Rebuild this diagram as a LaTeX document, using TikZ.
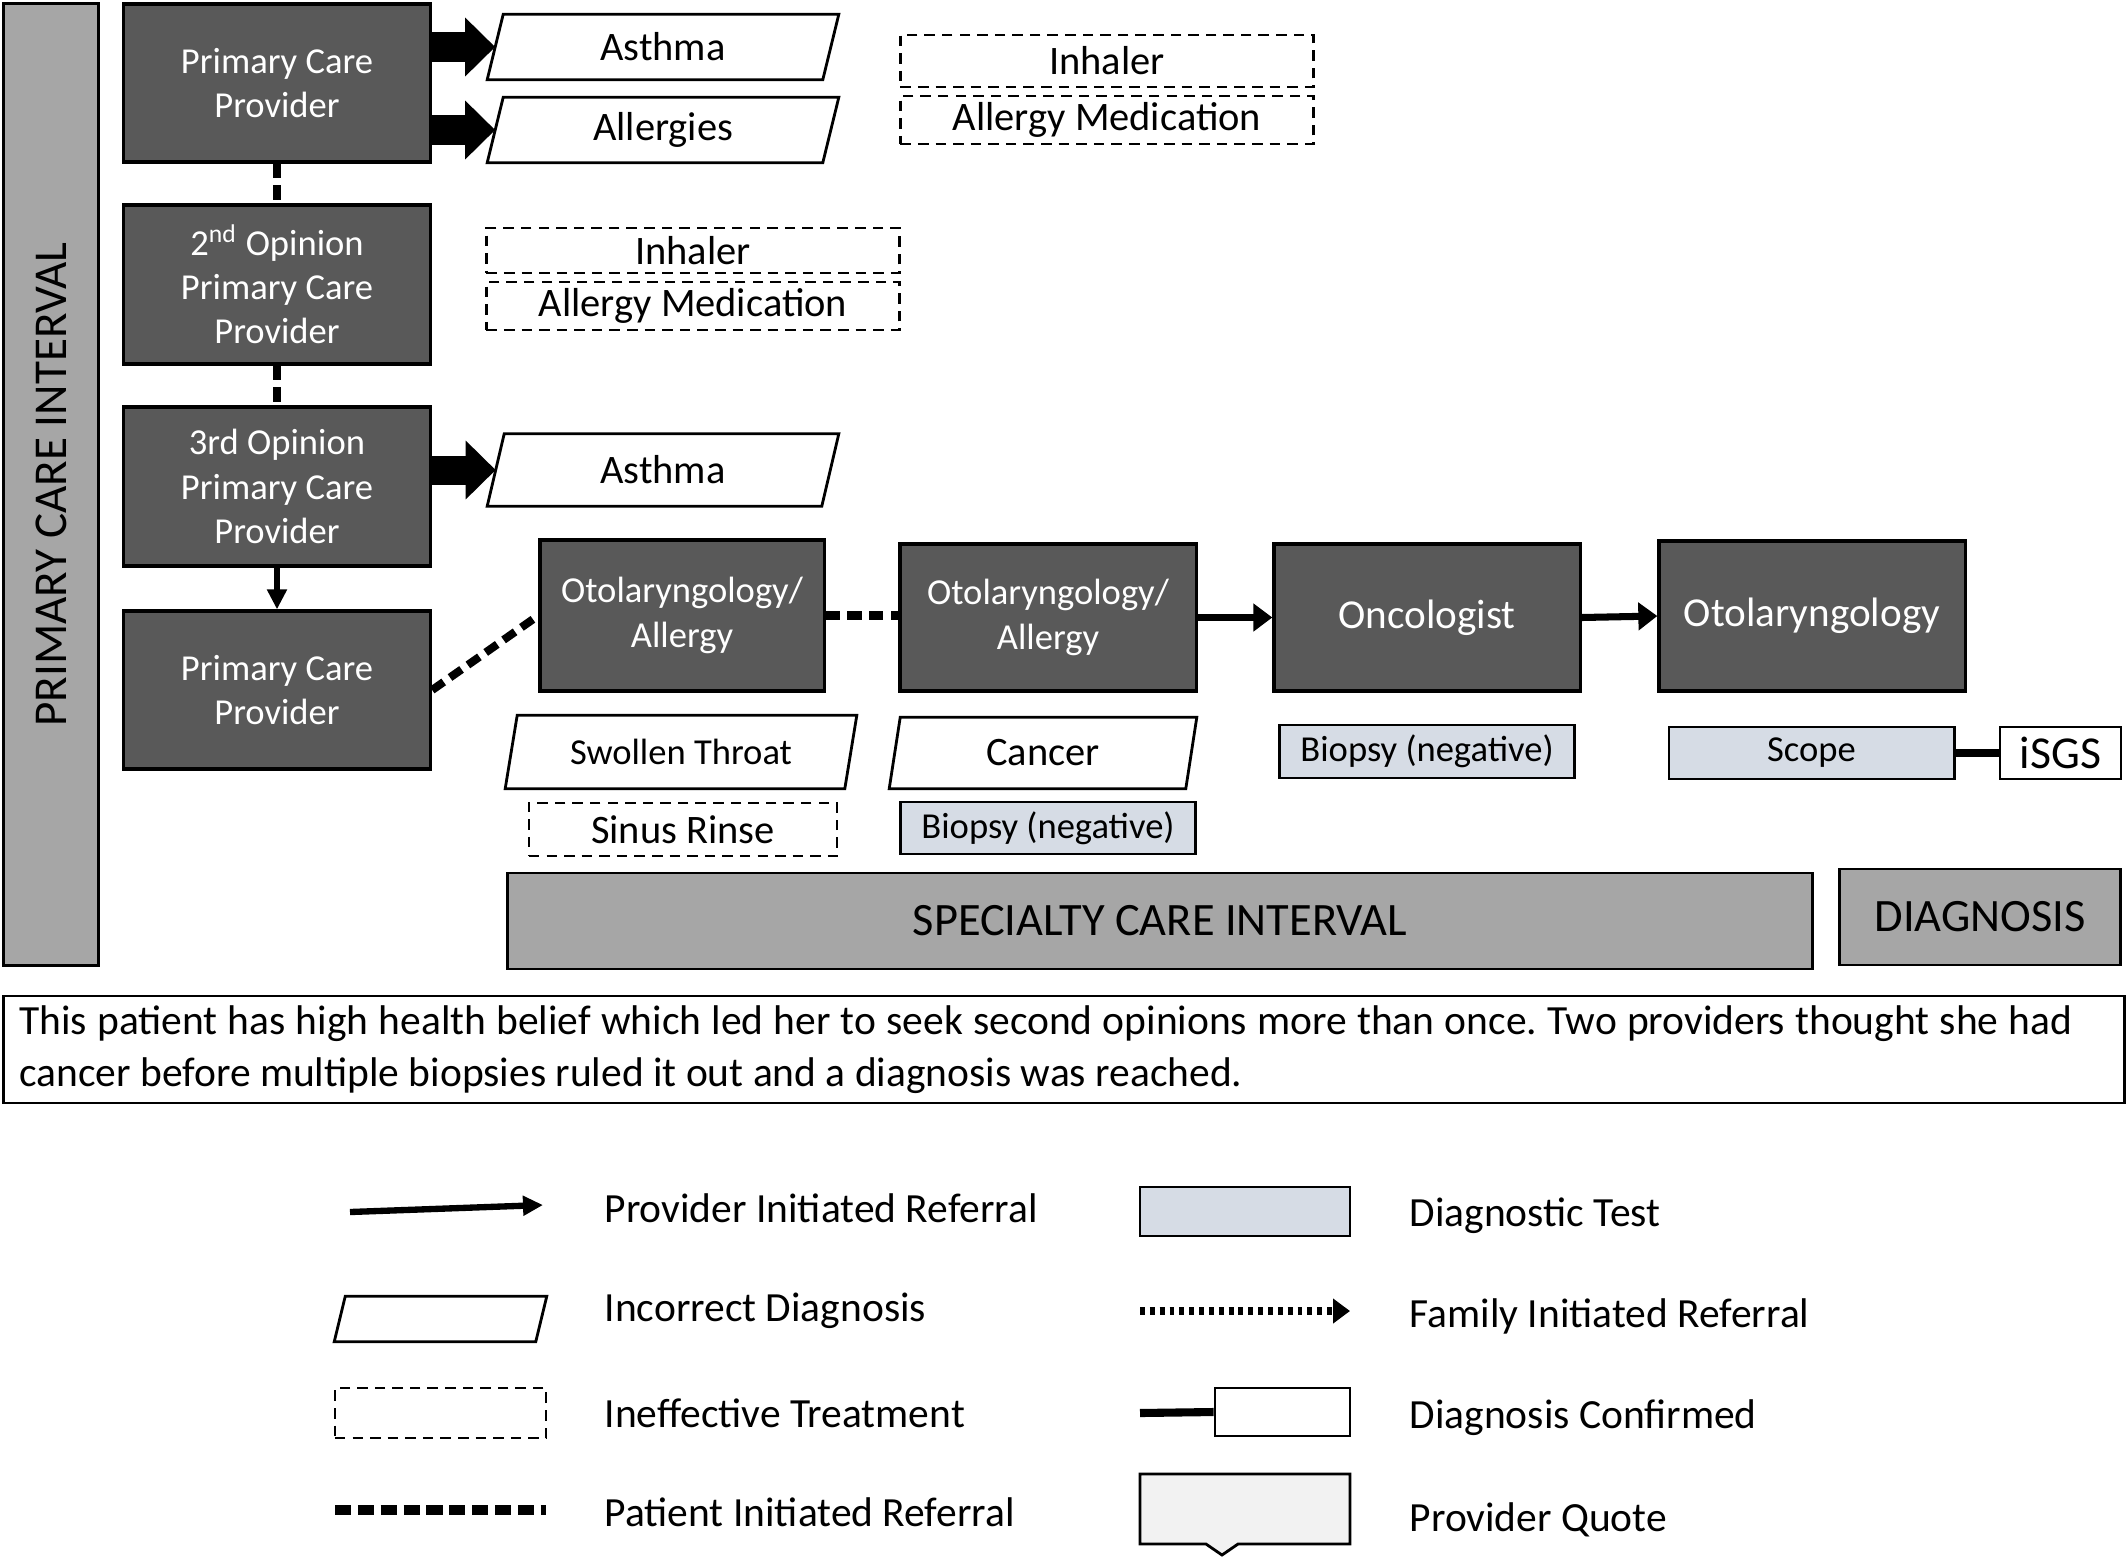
\documentclass[tikz,border=0pt]{standalone}
\usepackage{fontspec}
\setmainfont{Carlito}
\usetikzlibrary{arrows.meta}
\definecolor{darkbox}{HTML}{595959}
\definecolor{barfill}{HTML}{A6A6A6}
\definecolor{testfill}{HTML}{D6DCE5}
\definecolor{quotefill}{HTML}{F2F2F2}
\newcommand{\fs}[1]{\fontsize{#1}{1.2\dimexpr#1pt\relax}\selectfont}
% outline of an incorrect diagnosis box
\newcommand{\slantbox}[2]{\draw[line width=0.8pt] (#1.south west) -- ([xshift=#2]#1.north west) -- (#1.north east) -- ([xshift=-#2]#1.south east) -- cycle;}
\frenchspacing
\begin{document}
\begin{tikzpicture}[x=0.01cm,y=-0.01cm,
	provider/.style={draw=black,line width=0.9pt,fill=darkbox,text=white,align=center,inner sep=0pt,minimum width=3.07cm,minimum height=1.58cm,font=\fontsize{10.4}{12.6}\selectfont},
	wrongdx/.style={inner sep=0pt,minimum width=3.5cm,minimum height=0.64cm,font=\fs{11.5}},
	badtx/.style={draw=black,line width=0.7pt,dash pattern=on 3pt off 2pt,inner sep=0pt,minimum width=4.13cm,minimum height=0.48cm,font=\fs{11.5}},
	dxtest/.style={draw=black,line width=0.8pt,fill=testfill,inner sep=0pt,minimum width=2.95cm,minimum height=0.52cm,font=\fs{10.4}},
	interval/.style={draw=black,line width=0.8pt,fill=barfill,inner sep=0pt,font=\fs{13.2}},
	patient/.style={line width=2.3pt,dash pattern=on 4pt off 2.2pt},
	referral/.style={line width=1.6pt,-{Triangle[length=0.2cm,width=0.19cm]}},
	bigref/.style={line width=2pt,-{Triangle[length=0.19cm,width=0.27cm]}},
	blockarrow/.style={line width=0.29cm,-{Triangle[length=0.3cm,width=0.57cm]}},
	confirm/.style={line width=2.3pt},
	legtext/.style={anchor=west,inner sep=0pt,font=\fs{11.8}}]
	\useasboundingbox (0,0) rectangle (2128,1557);
	% intervals
	\node[interval,minimum width=0.95cm,minimum height=9.61cm] (pci) at (51,484.5) {};
	\node[rotate=90,font=\fs{13.4}] at (pci) {PRIMARY CARE INTERVAL};
	\node[interval,minimum width=13.04cm,minimum height=0.96cm] (sci) at (1160,921) {SPECIALTY CARE INTERVAL};
	\node[interval,minimum width=2.81cm,minimum height=0.96cm] (diag) at (1980,917) {DIAGNOSIS};
	% primary care
	\node[provider] (pcpA) at (277,83) {Primary Care\\Provider};
	\node[provider,minimum height=1.59cm] (pcpB) at (277,284.5) {2\textsuperscript{nd} Opinion\\Primary Care\\Provider};
	\node[provider,minimum height=1.59cm] (pcpC) at (277,486.5) {3rd Opinion\\Primary Care\\Provider};
	\node[provider] (pcpD) at (277,690) {Primary Care\\Provider};
	\node[wrongdx] (asthmaA) at (663,47) {Asthma};
	\node[wrongdx] (allergyA) at (663,130) {Allergies};
	\node[wrongdx,minimum height=0.71cm] (asthmaB) at (663,470) {Asthma};
	\slantbox{asthmaA}{0.16cm}
	\slantbox{allergyA}{0.16cm}
	\slantbox{asthmaB}{0.17cm}
	\node[badtx,minimum height=0.52cm] (inhalerA) at (1107,61) {Inhaler};
	\node[badtx] (medA) at (1107,120) {Allergy Medication};
	\node[badtx,minimum height=0.45cm] (inhalerB) at (693,250.5) {Inhaler};
	\node[badtx] (medB) at (693,306) {Allergy Medication};
	\draw[blockarrow] (pcpA.east |- asthmaA.west) -- ([xshift=0.08cm]asthmaA.west);
	\draw[blockarrow] (pcpA.east |- allergyA.west) -- ([xshift=0.08cm]allergyA.west);
	\draw[blockarrow] (pcpC.east |- asthmaB.west) -- ([xshift=0.085cm]asthmaB.west);
	\draw[patient] (pcpA) -- (pcpB);
	\draw[patient] (pcpB) -- (pcpC);
	\draw[referral] (pcpC) -- (pcpD);
	% specialty care
	\node[provider,minimum width=2.84cm,minimum height=1.51cm] (otoA) at (682,615.5) {Otolaryngology/\\Allergy};
	\node[provider,minimum width=2.96cm,minimum height=1.47cm] (otoB) at (1048,617.5) {Otolaryngology/\\Allergy};
	\node[provider,minimum width=3.06cm,minimum height=1.47cm,font=\fs{11.7}] (onc) at (1427,617.5) {Oncologist};
	\node[provider,minimum width=3.06cm,minimum height=1.5cm,font=\fs{11.7}] (otoC) at (1812,616) {Otolaryngology};
	\draw[patient] (pcpD.east) -- (otoA.west);
	\draw[patient] (otoA.east) -- (otoB.west |- otoA.east);
	\draw[bigref] (otoB.east) -- (onc.west);
	\draw[bigref] (onc.east) -- (otoC.west);
	\node[wrongdx,minimum height=0.72cm,font=\fs{10.4}] (throat) at (681,752) {Swollen Throat};
	\slantbox{throat}{0.12cm}
	\node[badtx,minimum width=3.08cm,minimum height=0.53cm] (rinse) at (683,829.5) {Sinus Rinse};
	\node[wrongdx,minimum width=3.06cm,minimum height=0.7cm] (cancer) at (1043,753) {Cancer};
	\slantbox{cancer}{0.11cm}
	\node[dxtest] (biopsyA) at (1048,828) {Biopsy (negative)};
	\node[dxtest,minimum height=0.53cm] (biopsyB) at (1427,751.5) {Biopsy (negative)};
	\node[dxtest,minimum width=2.85cm] (scope) at (1811.5,753) {Scope};
	\node[draw=black,line width=0.8pt,fill=white,inner sep=0pt,minimum width=1.21cm,minimum height=0.52cm,font=\fs{13}] (isgs) at (2060.5,753) {iSGS};
	\draw[confirm] (scope) -- (isgs);
	% summary
	\node[draw=black,line width=0.8pt,minimum width=21.2cm,minimum height=1.07cm,inner sep=0pt] (notebox) at (1064,1049.5) {};
	\node[text width=20.52cm,align=justify,inner sep=0pt,font=\fontsize{11.8}{14.7}\selectfont] (note) at (1046,1049.5) {This patient has high health belief which led her to seek second opinions more than once. Two providers thought she had\linebreak cancer before multiple biopsies ruled it out and a diagnosis was reached.};
	% legend
	\coordinate (pirA) at (350,1212);
	\coordinate (pirB) at (543,1205);
	\draw[referral,line width=1.8pt] (pirA) -- (pirB);
	\node[legtext] (pirT) at (604,1208) {Provider Initiated Referral};
	\node[wrongdx,minimum width=2.11cm,minimum height=0.44cm] (legdx) at (440.5,1319) {};
	\slantbox{legdx}{0.11cm}
	\node[legtext] (legdxT) at (604,1311) {Incorrect Diagnosis};
	\node[badtx,minimum width=2.11cm,minimum height=0.5cm] (legtx) at (440.5,1413) {};
	\node[legtext] (legtxT) at (604,1413) {Ineffective Treatment};
	\coordinate (patA) at (335,1510);
	\coordinate (patB) at (546,1510);
	\draw[patient,line width=2.6pt,dash pattern=on 4.6pt off 1.9pt] (patA) -- (patB);
	\node[legtext] (patT) at (604,1512) {Patient Initiated Referral};
	\node[dxtest,minimum width=2.1cm,minimum height=0.49cm] (legtest) at (1245,1211.5) {};
	\node[legtext] (legtestT) at (1409,1216) {Diagnostic Test};
	\coordinate (famA) at (1140,1311);
	\coordinate (famB) at (1350,1311);
	\draw[line width=2.3pt,dash pattern=on 1.4pt off 1.4pt,-{Triangle[length=0.17cm,width=0.24cm]}] (famA) -- (famB);
	\node[legtext] (famT) at (1409,1316) {Family Initiated Referral};
	\node[draw=black,line width=0.8pt,minimum width=1.35cm,minimum height=0.48cm,inner sep=0pt] (legconf) at (1282.5,1412) {};
	\coordinate (confA) at (1140,1413);
	\draw[confirm] (confA) -- (legconf.west);
	\node[legtext] (legconfT) at (1409,1418) {Diagnosis Confirmed};
	\draw[line width=0.8pt,fill=quotefill] (1140,1474) -- (1350,1474) -- (1350,1544) -- (1238,1544) -- (1222,1555) -- (1206,1544) -- (1140,1544) -- cycle;
	\node[legtext] (quoteT) at (1409,1520) {Provider Quote};
\end{tikzpicture}
\end{document}
